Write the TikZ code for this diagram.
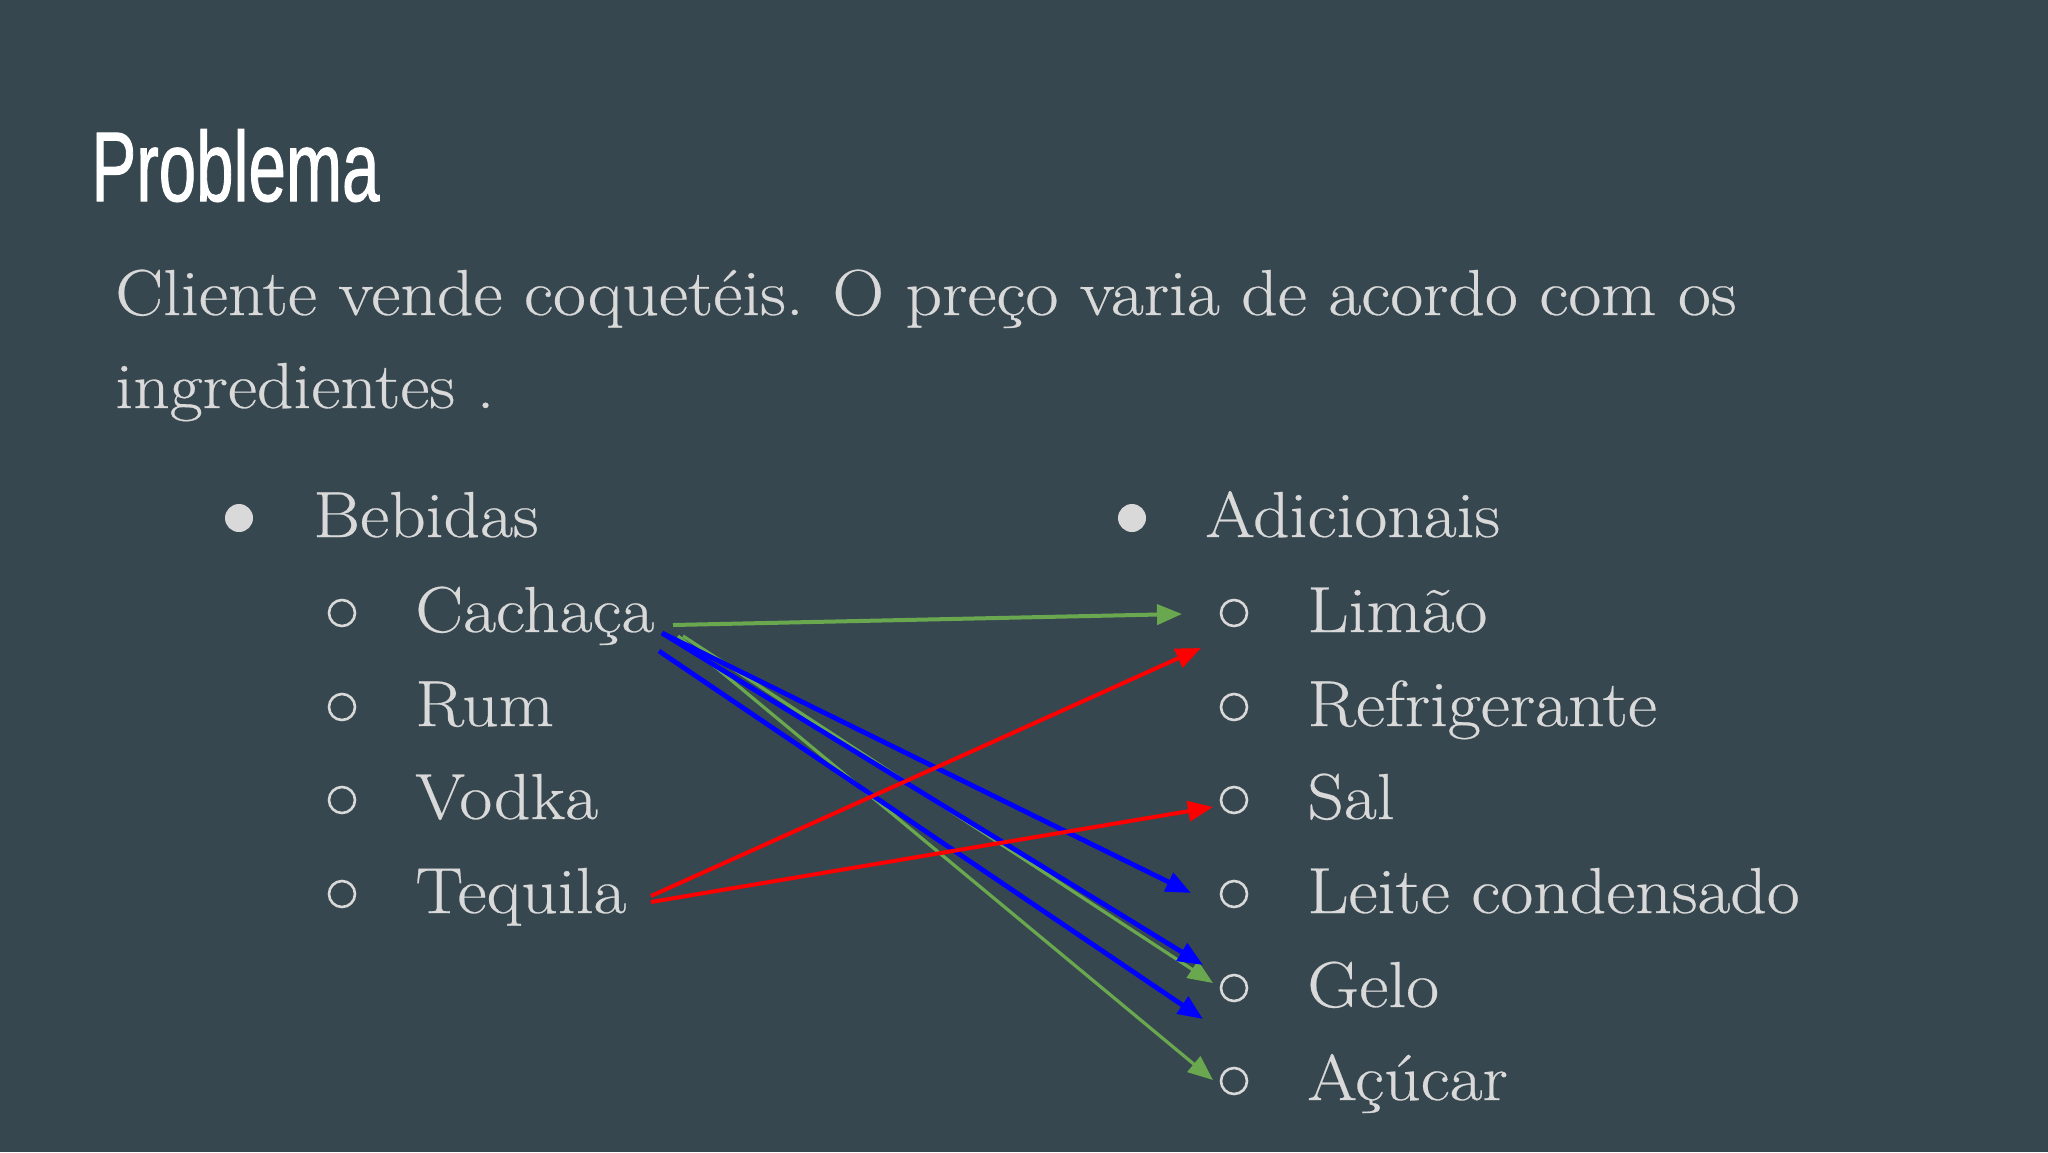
\documentclass[tikz,border=0pt]{standalone}
\usepackage{fontspec}
\newfontfamily\titlefont[FakeBold=1.2]{Liberation Sans}
\newfontfamily\bodyfont[FakeStretch=1.1, FakeBold=0.4]{Latin Modern Roman}
\usetikzlibrary{arrows.meta}
\definecolor{bg}{HTML}{37474F}
\definecolor{txt}{HTML}{D9D9D9}
\definecolor{agreen}{HTML}{6AA84F}
\definecolor{ablue}{HTML}{0000FF}
\definecolor{ared}{HTML}{FF0000}
\begin{document}
\begin{tikzpicture}[x=0.5pt,y=-0.5pt,
  txtnode/.style={anchor=base west, inner sep=0, text=txt, font=\bodyfont\fontsize{32.5}{38}\selectfont},
  dotbullet/.style={circle, fill=txt, minimum size=14pt, inner sep=0},
  ringbullet/.style={circle, draw=txt, line width=1.3pt, minimum size=13pt, inner sep=0},
  conn/.style={-{Triangle[length=12.5pt,width=10pt]}, line width=2pt},
  gconn/.style={conn, draw=agreen, fill=agreen},
  bconn/.style={conn, draw=ablue, fill=ablue, line width=2.4pt},
  rconn/.style={conn, draw=ared, fill=ared},
]
\fill[bg] (0,0) rectangle (2048,1152);

% title
\node[anchor=base west, inner sep=0, text=white, font=\titlefont\fontsize{49.5}{55}\selectfont] (title) at (91,201) {\scalebox{0.68}[1]{Problema}};

% body
\node[txtnode] (line1) at (115,315) {Cliente vende coquetéis. O preço varia de acordo com os};
\node[txtnode] (line2) at (115,408) {ingredientes .};

% left list
\node[dotbullet] (bl) at (239,518) {};
\node[txtnode] (bebidas) at (313,537) {Bebidas};
\node[ringbullet] (r1) at (342,613) {};
\node[txtnode] (cachaca) at (415,632) {Cachaça};
\node[ringbullet] (r2) at (342,707) {};
\node[txtnode] (rum) at (415,726) {Rum};
\node[ringbullet] (r3) at (342,800) {};
\node[txtnode] (vodka) at (415,819) {Vodka};
\node[ringbullet] (r4) at (342,894) {};
\node[txtnode] (tequila) at (415,913) {Tequila};

% right list
\node[dotbullet] (br) at (1132,518) {};
\node[txtnode] (adicionais) at (1205,537) {Adicionais};
\node[ringbullet] (s1) at (1234,613) {};
\node[txtnode] (limao) at (1307,632) {Limão};
\node[ringbullet] (s2) at (1234,707) {};
\node[txtnode] (refri) at (1307,726) {Refrigerante};
\node[ringbullet] (s3) at (1234,800) {};
\node[txtnode] (sal) at (1307,819) {Sal};
\node[ringbullet] (s4) at (1234,894) {};
\node[txtnode] (leite) at (1307,913) {Leite condensado};
\node[ringbullet] (s5) at (1234,988) {};
\node[txtnode] (gelo) at (1307,1007) {Gelo};
\node[ringbullet] (s6) at (1234,1081) {};
\node[txtnode] (acucar) at (1307,1100) {Açúcar};

% connector end points
\coordinate (cachG0) at (673,625);
\coordinate (cachG1) at (678,636);
\coordinate (cachG2) at (683,636);
\coordinate (cachB1) at (662,633);
\coordinate (cachB2) at (659,651);
\coordinate (teqR1) at (651,896);
\coordinate (teqR2) at (651,902);
\coordinate (limaoIn) at (1182,614);
\coordinate (refriIn) at (1201,648);
\coordinate (salIn) at (1213,807);
\coordinate (leiteIn) at (1191,893);
\coordinate (geloInB) at (1203,965);
\coordinate (geloInG) at (1213,983);
\coordinate (geloLowB) at (1203,1019);
\coordinate (acucarIn) at (1213,1080);

% connectors
\draw[gconn] (cachG0) -- (limaoIn);
\draw[gconn, line width=1.6pt] (cachG1) -- (acucarIn);
\draw[gconn, line width=1.6pt] (cachG2) -- (geloInG);
\draw[bconn] (cachB1) -- (leiteIn);
\draw[bconn] (cachB1) -- (geloInB);
\draw[bconn] (cachB2) -- (geloLowB);
\draw[rconn] (teqR1) -- (refriIn);
\draw[rconn] (teqR2) -- (salIn);
\end{tikzpicture}
\end{document}
